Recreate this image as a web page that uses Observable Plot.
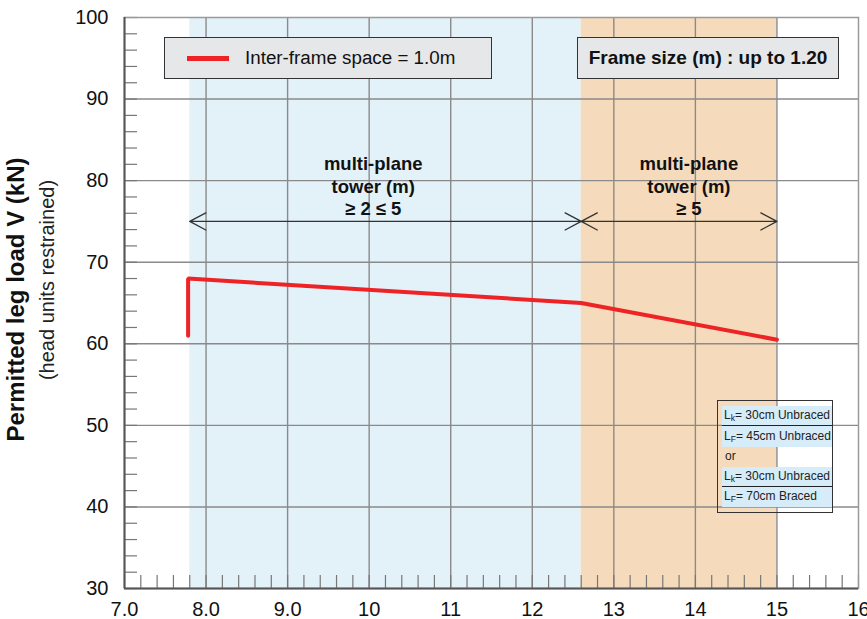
<!DOCTYPE html>
<html><head><meta charset="utf-8">
<script src="https://cdn.jsdelivr.net/npm/d3@7"></script>
<script src="https://cdn.jsdelivr.net/npm/@observablehq/plot@0.6"></script>
<style>
body{margin:0;background:#fff;font-family:"Liberation Sans",Arial,sans-serif;}
#wrap{position:relative;width:867px;height:619px;overflow:hidden}
.box{position:absolute;background:#e6e7e8;border:1.5px solid #333;box-sizing:border-box;display:flex;align-items:center;color:#111}
#note{position:absolute;left:717px;top:400px;width:116px;height:113px;border:1.5px solid #333;box-sizing:border-box;font-size:12px;color:#222}
#note .s{position:absolute;left:4px;right:0;background:#d6ecf8;padding-left:2px;box-sizing:border-box;line-height:19px;white-space:nowrap}
#note .d{border-bottom:1.3px solid #222}
#note sub{font-size:8.5px;vertical-align:-2px;line-height:0}
</style></head><body><div id="wrap"></div>
<script>
// ---- data ----
const lineX = [7.78, 7.78, 12.6, 15.0];
const lineY = [61.0, 68.0, 65.0, 60.5];
const zoneStart = [7.8, 12.6];
const zoneEnd = [12.6, 15.0];
const zoneFill = ["#e3f1f9", "#f5dbbc"];
const zoneText = ["multi-plane\ntower (m)\n≥ 2 ≤ 5", "multi-plane\ntower (m)\n≥ 5"];
const zoneTextX = [10.05, 13.92];
const zoneTextY = 79.4;
const arrowY = 75;
const xTicks = [7, 8, 9, 10, 11, 12, 13, 14, 15, 16];
const xTickLabels = ["7.0", "8.0", "9.0", "10", "11", "12", "13", "14", "15", "16"];
const yTicks = [30, 40, 50, 60, 70, 80, 90, 100];
const xDomain = [7, 16];
const yDomain = [30, 100];
const legendLabel = "Inter-frame space = 1.0m";
const frameLabel = "Frame size (m) : up to 1.20";
const yTitle = "Permitted leg load V (kN)";
const ySubTitle = "(head units restrained)";

// ---- derived tables ----
const points = lineX.map((x, i) => ({x, y: lineY[i]}));
const zones = zoneStart.map((s, i) => ({s, e: zoneEnd[i], fill: zoneFill[i], text: zoneText[i], tx: zoneTextX[i]}));
const arrows = zones.flatMap(z => {
  const m = (z.s + z.e) / 2;
  return [{x1: m, x2: z.s}, {x1: m, x2: z.e}];
});
const minorX = d3.range(35, 81).map(i => i / 5);
const minorY = d3.range(15, 51).map(i => i * 2);
const font = "Liberation Sans, Arial, sans-serif";

const chart = Plot.plot({
  width: 867, height: 619,
  marginLeft: 124, marginRight: 9, marginTop: 17, marginBottom: 31,
  style: {fontFamily: font, background: "transparent", overflow: "visible"},
  x: {domain: xDomain, label: null},
  y: {domain: yDomain, label: null},
  marks: [
    Plot.rect(zones, {x1: "s", x2: "e", y1: yDomain[0], y2: yDomain[1], fill: "fill"}),
    Plot.gridX(xTicks.slice(1, -1), {stroke: "#8a8a8a", strokeOpacity: 1, strokeWidth: 1.4}),
    Plot.gridY(yTicks.slice(1, -1), {stroke: "#8a8a8a", strokeOpacity: 1, strokeWidth: 1.4}),
    Plot.axisX(minorX, {tickSize: -13, text: null, stroke: "#777", strokeWidth: 1.2}),
    Plot.axisY(minorY, {tickSize: -13, text: null, stroke: "#777", strokeWidth: 1.2}),
    Plot.axisX(xTicks, {tickSize: 0, tickPadding: 13, fontSize: 20, fill: "#111", tickFormat: d => xTickLabels[xTicks.indexOf(d)]}),
    Plot.axisY(yTicks, {tickSize: 0, tickPadding: 16, fontSize: 20, fill: "#111"}),
    Plot.frame({stroke: "#9a9a9a", strokeWidth: 1.5}),
    Plot.ruleX([xDomain[0]], {stroke: "#555", strokeWidth: 2}),
    Plot.ruleY([yDomain[0]], {stroke: "#555", strokeWidth: 2}),
    Plot.line(points, {x: "x", y: "y", stroke: "#ee2326", strokeWidth: 4, strokeLinejoin: "miter"}),
    Plot.arrow(arrows, {x1: "x1", x2: "x2", y1: arrowY, y2: arrowY, stroke: "#333", strokeWidth: 1.3, headLength: 21, headAngle: 56}),
    Plot.text(zones, {x: "tx", y: zoneTextY, text: "text", fontSize: 18.5, fontWeight: "bold", lineHeight: 1.22, fill: "#111"}),
    Plot.text([yTitle], {frameAnchor: "left", textAnchor: "middle", dx: -108, dy: -3.5, rotate: -90, fontSize: 24, fontWeight: "bold", fill: "#111"}),
    Plot.text([ySubTitle], {frameAnchor: "left", textAnchor: "middle", dx: -77, dy: -23, rotate: -90, fontSize: 20, fill: "#222"})
  ]
});
const wrap = document.getElementById("wrap");
wrap.appendChild(chart);

const b1 = document.createElement("div");
b1.className = "box";
Object.assign(b1.style, {left: "164px", top: "37px", width: "328px", height: "42px"});
b1.innerHTML = `<span style="display:inline-block;width:42px;height:5px;background:#ee2326;margin-left:22px;margin-right:16px"></span><span style="font-size:18.8px">${legendLabel}</span>`;
wrap.appendChild(b1);

const b2 = document.createElement("div");
b2.className = "box";
Object.assign(b2.style, {left: "577px", top: "37px", width: "262px", height: "42px", justifyContent: "center"});
b2.innerHTML = `<span style="font-size:19px;font-weight:bold">${frameLabel}</span>`;
wrap.appendChild(b2);

const note = document.createElement("div");
note.id = "note";
note.innerHTML = `
<div class="s d" style="top:5px;height:20px">L<sub>k</sub>= 30cm Unbraced</div>
<div class="s" style="top:25px;height:21px;line-height:21px">L<sub>F</sub>= 45cm Unbraced</div>
<div style="position:absolute;left:7px;top:48px;line-height:14px">or</div>
<div class="s d" style="top:66px;height:20px">L<sub>k</sub>= 30cm Unbraced</div>
<div class="s" style="top:86px;height:20px">L<sub>F</sub>= 70cm Braced</div>`;
wrap.appendChild(note);
</script></body></html>
